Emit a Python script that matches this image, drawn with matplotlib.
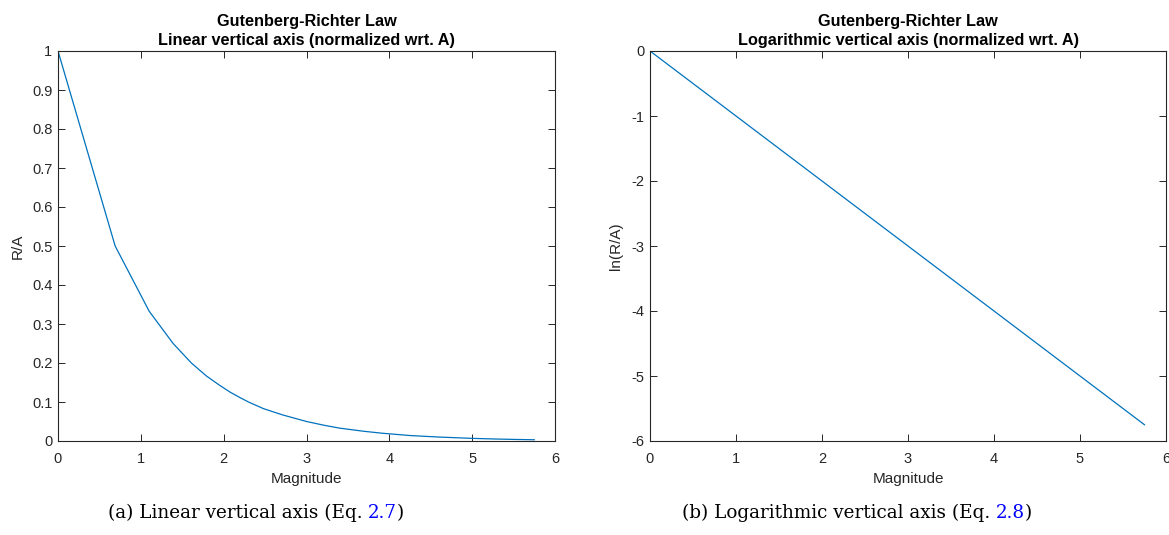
import matplotlib.pyplot as plt

# 数据: 震级与归一化的发生率
magnitude = [0.0, 0.69, 1.10, 1.39, 1.61, 1.79, 1.95, 2.08, 2.20, 2.30, 2.48, 2.71,
             3.00, 3.22, 3.40, 3.69, 3.91, 4.25, 4.61, 5.01, 5.30, 5.52, 5.75]
r_over_a = [1.0, 0.5, 0.333, 0.25, 0.2, 0.167, 0.143, 0.125, 0.111, 0.1, 0.083, 0.067,
            0.05, 0.04, 0.033, 0.025, 0.02, 0.014, 0.01, 0.0067, 0.005, 0.004, 0.0032]
ln_r_over_a = [0.0, -0.69, -1.10, -1.39, -1.61, -1.79, -1.95, -2.08, -2.20, -2.30, -2.48, -2.71,
               -3.00, -3.22, -3.40, -3.69, -3.91, -4.25, -4.61, -5.01, -5.30, -5.52, -5.75]

W, H = 1169, 535
plt.rcParams['font.family'] = ['Liberation Sans', 'DejaVu Sans']
plt.rcParams['axes.unicode_minus'] = False
fig = plt.figure(figsize=(W / 100, H / 100), dpi=100)

line_color = '#0072BD'
axis_color = '#262626'


def px_axes(x0, x1, y0, y1):
    return fig.add_axes([x0 / W, 1 - y1 / H, (x1 - x0) / W, (y1 - y0) / H])


def style_axes(ax):
    for s in ax.spines.values():
        s.set_color(axis_color)
        s.set_linewidth(0.8)
    ax.tick_params(direction='in', top=True, right=True, length=5, width=0.7,
                   colors=axis_color, labelsize=10.5)
    ax.tick_params(axis='x', pad=8)
    ax.tick_params(axis='y', pad=4)


# 左图: 线性纵轴
ax1 = px_axes(58, 555, 51, 441)
ax1.plot(magnitude, r_over_a, color=line_color, linewidth=0.9)
ax1.set_xlim(0, 6)
ax1.set_ylim(0, 1)
ax1.set_xticks(range(0, 7))
ax1.set_yticks([i / 10 for i in range(11)])
ax1.set_yticklabels(['0'] + ['0.%d' % i for i in range(1, 10)] + ['1'])
style_axes(ax1)
ax1.set_xlabel('Magnitude', fontsize=11, color=axis_color, labelpad=4)
ax1.set_ylabel('R/A', fontsize=11, color=axis_color, labelpad=5)
ax1.set_title('Gutenberg-Richter Law\nLinear vertical axis (normalized wrt. A)',
              fontsize=11.7, fontweight='bold', pad=4, linespacing=1.4)

# 右图: 对数纵轴
ax2 = px_axes(650, 1166, 51, 441)
ax2.plot(magnitude, ln_r_over_a, color=line_color, linewidth=0.9)
ax2.set_xlim(0, 6)
ax2.set_ylim(-6, 0)
ax2.set_xticks(range(0, 7))
ax2.set_yticks(range(-6, 1))
style_axes(ax2)
ax2.set_xlabel('Magnitude', fontsize=11, color=axis_color, labelpad=4)
ax2.set_ylabel('ln(R/A)', fontsize=11, color=axis_color, labelpad=6)
ax2.set_title('Gutenberg-Richter Law\nLogarithmic vertical axis (normalized wrt. A)',
              fontsize=11.7, fontweight='bold', pad=4, linespacing=1.4)

# 子图说明文字, 引用编号为蓝色
cap_font = dict(family='DejaVu Serif', fontsize=13.2, va='center', ha='left')


def draw_caption(x_center, parts):
    renderer = fig.canvas.get_renderer()
    texts = [fig.text(0, 1 - 513 / H, s, color=c, **cap_font) for s, c in parts]
    widths = [t.get_window_extent(renderer=renderer).width for t in texts]
    x = x_center - sum(widths) / 2
    for t, w in zip(texts, widths):
        t.set_x(x / W)
        x += w


draw_caption(256, [('(a) Linear vertical axis (Eq. ', 'black'), ('2.7', 'blue'), (')', 'black')])
draw_caption(857, [('(b) Logarithmic vertical axis (Eq. ', 'black'), ('2.8', 'blue'), (')', 'black')])

fig.savefig('out.png', dpi=100)
